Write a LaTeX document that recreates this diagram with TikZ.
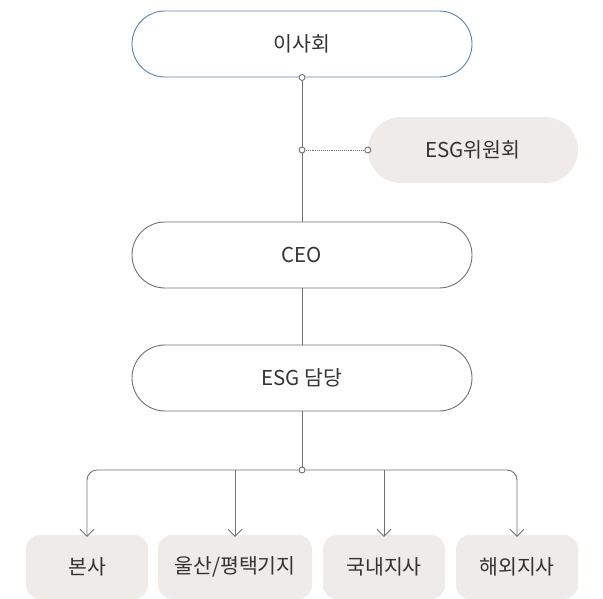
\documentclass[tikz,border=0pt]{standalone}
\usepackage{fontspec}
\setmainfont{Noto Sans CJK KR}
\usetikzlibrary{arrows.meta, positioning}
\definecolor{boardblue}{HTML}{5A82AC}
\definecolor{linegray}{HTML}{707070}
\definecolor{textgray}{HTML}{333333}
\definecolor{boxfill}{HTML}{EEEBE8}

\begin{document}
\begin{tikzpicture}[
    x=1pt, y=-1pt,
    pill/.style={
        rectangle,
        draw=linegray,
        line width=0.9pt,
        rounded corners=33pt,
        align=center,
        minimum width=340pt,
        minimum height=66pt,
        text=textgray,
        font=\fontsize{20.5}{24}\selectfont
    },
    unit/.style={
        rectangle,
        fill=boxfill,
        rounded corners=14pt,
        align=center,
        minimum height=64pt,
        text=textgray,
        font=\fontsize{20.5}{24}\selectfont
    },
    link/.style={draw=linegray, line width=0.9pt},
    arrow/.style={link, -{Straight Barb[length=7pt, width=14pt, line width=0.9pt]}},
    dot/.style={circle, draw=linegray, fill=white, line width=0.9pt,
        inner sep=0pt, minimum size=6pt}
]
\useasboundingbox (0,0) rectangle (603,598);

\node[pill, draw=boardblue] (board) at (302,44) {이사회};
\node[pill] (ceo) at (302,255) {CEO};
\node[pill] (esgteam) at (302,378) {ESG 담당};

\node[unit, minimum width=210pt, rounded corners=33pt, minimum height=66pt] (committee) at (473,150) {ESG위원회};

\node[unit, minimum width=122pt] (hq) at (87,567) {본사};
\node[unit, minimum width=154pt] (ulsan) at (235,567) {울산/평택기지};
\node[unit, minimum width=122pt] (domestic) at (384,567) {국내지사};
\node[unit, minimum width=122pt] (overseas) at (517,567) {해외지사};

\coordinate (tap) at (302,150);
\coordinate (split) at (302,470);

\draw[link] (board) -- (ceo);
\draw[link] (ceo) -- (esgteam);
\draw[link] (esgteam) -- (split);
\draw[link, densely dotted, line width=0.7pt] (tap) -- (committee.west);

\draw[arrow, rounded corners=10pt] (split) -| ([yshift=-2pt]hq.north);
\draw[arrow, rounded corners=10pt] (split) -| ([yshift=-2pt]overseas.north);
\draw[arrow] (split -| ulsan) -- ([yshift=-2pt]ulsan.north);
\draw[arrow] (split -| domestic) -- ([yshift=-2pt]domestic.north);

\node[dot] at (board.south) {};
\node[dot] at (tap) {};
\node[dot] at (committee.west) {};
\node[dot] at (split) {};

\end{tikzpicture}
\end{document}
